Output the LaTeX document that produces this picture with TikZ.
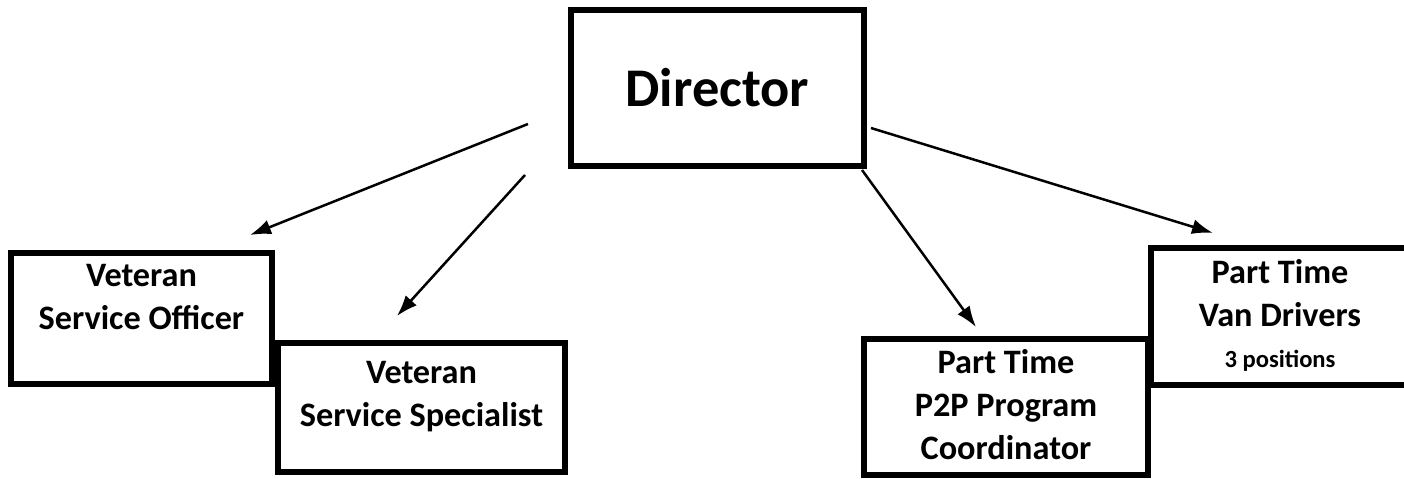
\documentclass[tikz,border=0pt]{standalone}
\usepackage{fontspec}
\setmainfont{Carlito}
\usetikzlibrary{arrows.meta}

\begin{document}
\begin{tikzpicture}[x=0.02cm, y=-0.02cm,
		box/.style={draw, line width=0.11cm, inner sep=0pt},
		title/.style={anchor=north, inner sep=0pt, align=center, font=\bfseries\fontsize{19.5}{24.4}\selectfont},
		link/.style={line width=0.05cm, -{Latex[length=0.42cm, width=0.3cm]}}]
			%%%%% START %%%%%
			\useasboundingbox (0,0) rectangle (1404,479);
			
			\node[box, minimum width=5.87cm, minimum height=3.13cm, font=\bfseries\fontsize{31}{37}\selectfont] (dir) at (717.5,88) {Director};
			
			\node[box, minimum width=5.23cm, minimum height=2.63cm] (vso) at (141.5,318.5) {};
			\node[box, minimum width=5.75cm, minimum height=2.59cm] (vss) at (421.5,407.5) {};
			\node[box, minimum width=5.69cm, minimum height=2.73cm] (p2p) at (1006,407) {};
			\node[box, minimum width=5.17cm, minimum height=2.75cm] (van) at (1280,316.5) {};
			
			\node[title] (vso-txt) at ([yshift=-0.28cm]vso.north) {Veteran\\Service Officer};
			\node[title] (vss-txt) at ([yshift=-0.42cm]vss.north) {Veteran\\Service Specialist};
			\node[title] (p2p-txt) at ([yshift=-0.26cm]p2p.north) {Part Time\\P2P Program\\Coordinator};
			\node[title] (van-txt) at ([yshift=-0.28cm]van.north) {Part Time\\Van Drivers\\[-1pt]{\fontsize{14}{17}\selectfont 3 positions}};
			
			\coordinate (d-vso) at (528,124);
			\coordinate (d-vss) at (525,175);
			\coordinate (d-p2p) at (862,170);
			\coordinate (d-van) at (871,128);
			\coordinate (vso-in) at (250,235);
			\coordinate (vss-in) at (397,316);
			\coordinate (p2p-in) at (976,327);
			\coordinate (van-in) at (1213,233);
			
			\draw[link] (d-vso) -- (vso-in);
			\draw[link] (d-vss) -- (vss-in);
			\draw[link] (d-p2p) -- (p2p-in);
			\draw[link] (d-van) -- (van-in);
			%%%%% END %%%%%
\end{tikzpicture}
\end{document}
